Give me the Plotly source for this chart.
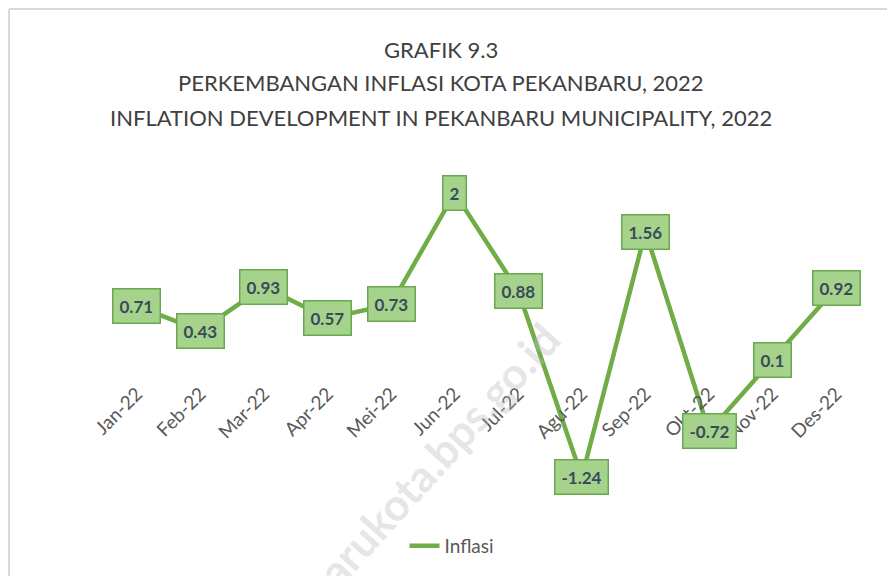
import plotly.graph_objects as go

months = ["Jan-22", "Feb-22", "Mar-22", "Apr-22", "Mei-22", "Jun-22",
          "Jul-22", "Agu-22", "Sep-22", "Okt-22", "Nov-22", "Des-22"]
inflasi = [0.71, 0.43, 0.93, 0.57, 0.73, 2, 0.88, -1.24, 1.56, -0.72, 0.1, 0.92]
series_name = "Inflasi"
title_lines = ["GRAFIK 9.3",
               "PERKEMBANGAN INFLASI KOTA PEKANBARU, 2022",
               "INFLATION DEVELOPMENT IN PEKANBARU MUNICIPALITY, 2022"]
watermark = "pekanbarukota.bps.go.id"

LINE = "#70ad47"
FILL = "#a6d38c"
TXT = "#3b4a5a"
FONT = "Lato"

OFF = 8  # page body margin
W, H = 895 - OFF, 576 - OFF
L, T = 105 - OFF, 150 - OFF
R = 27
B = H - (500 - OFF)
ymin, ymax = -1.502, 2.49
ph = H - T - B
pw = W - L - R


def py(p):
    return (500 - p) / ph


def px(p):
    return (p - 105) / pw


fig = go.Figure()
fig.add_trace(go.Scatter(
    x=months, y=inflasi, mode="lines", name=series_name,
    line=dict(color=LINE, width=4.5), showlegend=True,
))

annotations = []
for m, v in zip(months, inflasi):
    annotations.append(dict(
        x=m, y=v, xref="x", yref="y", text=f"<b>{v:g}</b>", showarrow=False,
        font=dict(family=FONT, size=17, color=TXT),
        bgcolor=FILL, bordercolor="#6aa84f", borderwidth=1.5, borderpad=6,
        xanchor="center", yanchor="middle",
    ))

for txt, ypix in zip(title_lines, [50, 83, 117]):
    annotations.append(dict(
        x=px(441), y=py(ypix), xref="paper", yref="paper", text=txt,
        showarrow=False, xanchor="center", yanchor="middle",
        font=dict(family=FONT, size=22, color="#404040"),
    ))

annotations.append(dict(
    x=px(390), y=py(508), xref="paper", yref="paper", text=f"<b>{watermark}</b>",
    showarrow=False, textangle=-48, xanchor="center", yanchor="middle",
    font=dict(family=FONT, size=44, color="rgba(190,190,190,0.40)"),
))

zero_pos = (0 - ymin) / (ymax - ymin)

fig.update_layout(
    width=W, height=H,
    margin=dict(l=L, r=R, t=T, b=B, autoexpand=False),
    paper_bgcolor="white", plot_bgcolor="white",
    xaxis=dict(type="category", range=[-0.5, 11.5], anchor="free", position=zero_pos,
               showgrid=False, zeroline=False, showline=False, ticks="",
               ticklabelstandoff=10, automargin=False,
               tickangle=-45, tickfont=dict(family=FONT, size=19, color="#595959")),
    yaxis=dict(range=[ymin, ymax], visible=False, showgrid=False, zeroline=False),
    showlegend=True,
    legend=dict(orientation="h", x=px(452), y=py(546), xanchor="center", yanchor="middle",
                font=dict(family=FONT, size=19, color="#595959"), bgcolor="rgba(0,0,0,0)"),
    annotations=annotations,
    shapes=[
        dict(type="line", xref="paper", yref="paper", x0=px(9), x1=px(895), y0=py(9), y1=py(9),
             line=dict(color="#d9d9d9", width=2)),
        dict(type="line", xref="paper", yref="paper", x0=px(9), x1=px(9), y0=py(9), y1=py(576),
             line=dict(color="#d9d9d9", width=2)),
    ],
)

fig.write_html("out.html")
